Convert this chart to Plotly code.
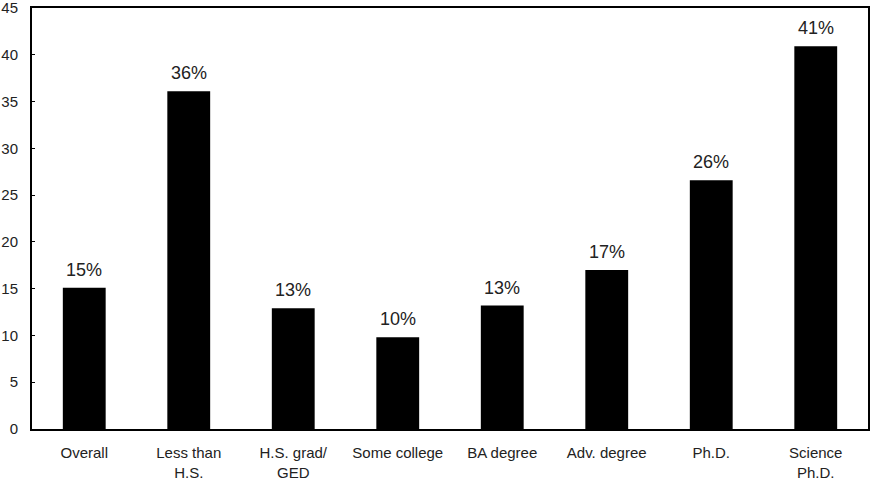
import plotly.graph_objects as go

categories = ["Overall", "Less than<br>H.S.", "H.S. grad/<br>GED", "Some college",
              "BA degree", "Adv. degree", "Ph.D.", "Science<br>Ph.D."]
values = [15.1, 36.1, 12.9, 9.8, 13.2, 17.0, 26.6, 40.9]
labels = ["15%", "36%", "13%", "10%", "13%", "17%", "26%", "41%"]
y_ticks = [0, 5, 10, 15, 20, 25, 30, 35, 40, 45]

fig = go.Figure()
fig.add_trace(go.Bar(x=categories, y=values, marker=dict(color="black", line=dict(width=0)),
                     width=0.41, hoverinfo="skip"))

for c, v, t in zip(categories, values, labels):
    fig.add_annotation(x=c, y=v, text=t, showarrow=False, yanchor="bottom", yshift=6,
                       font=dict(family="Liberation Sans, Arial", size=18, color="#222"))

fig.update_layout(
    width=871, height=483,
    margin=dict(l=32, r=3, t=8, b=54),
    paper_bgcolor="white", plot_bgcolor="white",
    showlegend=False,
    font=dict(family="Liberation Sans, Arial", size=15, color="#222"),
)
fig.update_xaxes(showline=True, linecolor="black", linewidth=2, mirror=True,
                 ticks="", showgrid=False, tickfont=dict(size=15), automargin=False,
                 ticklabelstandoff=9)
fig.update_yaxes(range=[0, 45], tickvals=y_ticks, showline=True, linecolor="black", linewidth=2,
                 mirror=True, ticks="inside", ticklen=3, tickcolor="black", showgrid=False,
                 zeroline=False, tickfont=dict(size=15), automargin=False,
                 ticklabeloverflow="allow", ticklabelstandoff=9)

fig.write_html("out.html", config={"responsive": False, "displayModeBar": False},
               post_script="document.body.style.margin='0';document.body.style.overflow='hidden';")
